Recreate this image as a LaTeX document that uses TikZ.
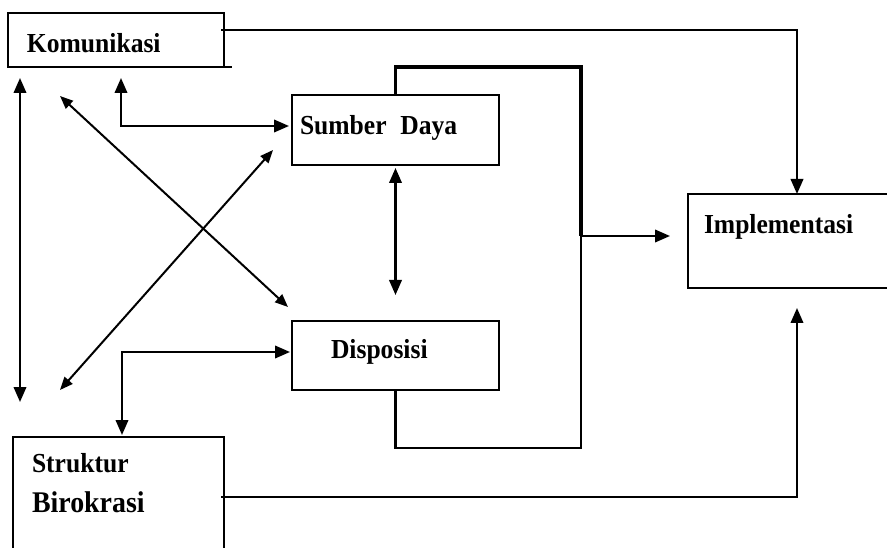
\documentclass[tikz,border=0pt]{standalone}
\usepackage{fontspec}
\setmainfont{Liberation Serif}
\newfontfamily\lblfont[FakeStretch=0.93]{Liberation Serif Bold}
\usetikzlibrary{arrows.meta,calc}
\begin{document}
\begin{tikzpicture}[x=1pt,y=-1pt,
 box/.style={draw,line width=1.6pt,anchor=north west,inner sep=0pt,outer sep=0pt},
 lbl/.style={anchor=base west,inner sep=0pt,outer sep=0pt,font=\lblfont\fontsize{27.5}{32}\selectfont},
 conn/.style={line width=2.2pt},
 arr/.style={conn,-{Triangle[length=15pt,width=12.5pt]}},
 darr/.style={conn,{Triangle[length=15pt,width=12.5pt]}-{Triangle[length=15pt,width=12.5pt]}},
 darrs/.style={line width=2pt,{Triangle[length=13pt,width=10.5pt]}-{Triangle[length=13pt,width=10.5pt]}},
]
\clip (0,0) rectangle (887,548);
\fill[white] (0,0) rectangle (887,548);

\node[box,minimum width=216pt,minimum height=54pt] (kom) at (8,13) {};
\node[box,minimum width=207pt,minimum height=70pt] (sd) at (292,95) {};
\node[box,minimum width=207pt,minimum height=69pt] (dis) at (292,321) {};
\node[box,minimum width=218pt,minimum height=94pt] (imp) at (688,194) {};
\node[box,minimum width=211pt,minimum height=130pt] (sb) at (13,437) {};

\node[lbl] (komt) at (27,53) {Komunikasi};
\node[lbl] (sdt) at (300,135) {Sumber\hspace{0.5em}Daya};
\node[lbl] (dist) at (331,359) {Disposisi};
\node[lbl] (impt) at (704,234) {Implementasi};
\node[lbl] (sbt1) at (32,472) {Struktur};
\node[lbl,font=\lblfont\fontsize{30}{35}\selectfont] (sbt2) at (32,512) {Birokrasi};

\draw[line width=1.6pt] (kom.south east) -- ++(8,0);

\coordinate (j) at (581,236);
\draw[arr] ($(kom.north east)+(-3,17)$) -| (imp.north);
\draw[arr] ($(sb.north east)+(-3,60)$) -| ($(imp.south)+(0,20)$);
\draw[line width=3.4pt] (sd.north) -- ++(0,-28) -| (j);
\draw[line width=2.4pt] (dis.south) -- ++(0,58) -| (j);
\draw[arr] (j) -- ($(imp.west |- j)+(-18,0)$);

\draw[darr] ($(kom.south west)+(12,11)$) -- ($(sb.north west)+(7,-35)$);
\draw[darrs] ($(kom.south west)+(52,29)$) -- ($(dis.north west)+(-4,-14)$);
\draw[darrs] ($(sd.west)+(-19,20)$) -- ($(sb.north west)+(47,-47)$);
\draw[darr] ($(kom.south west)+(113,11)$) |- ($(sd.west)+(-3,-4)$);
\draw[darr] ($(sd.south)+(0,3)$) -- ($(dis.north)+(0,-26)$);
\draw[darr] ($(dis.west)+(-2,-3.5)$) -| ($(sb.north west)+(109,-2)$);
\end{tikzpicture}
\end{document}
